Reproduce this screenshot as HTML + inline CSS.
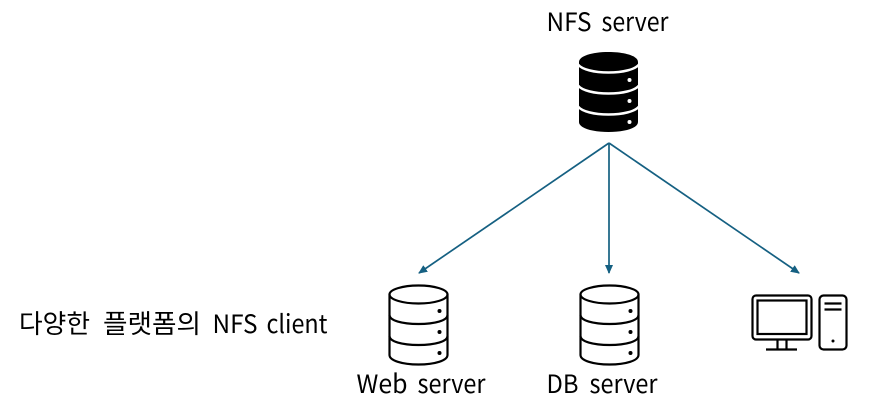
<!DOCTYPE html>
<html>
<head>
<meta charset="utf-8">
<style>
html,body{margin:0;padding:0;background:#fff;width:874px;height:415px;overflow:hidden}
svg{display:block}
text{font-family:"Noto Sans CJK KR","NanumGothic","Liberation Sans",sans-serif;font-size:25.500px;fill:#000}
text.k{font-size:26px}
</style>
</head>
<body>
<svg width="874" height="415" viewBox="0 0 874 415" xmlns="http://www.w3.org/2000/svg">
  <defs>
    <marker id="ah" markerWidth="9" markerHeight="8" refX="8" refY="4" orient="auto" markerUnits="userSpaceOnUse">
      <path d="M0 0L9 4L0 8Z" fill="#156082"/>
    </marker>
  </defs>

  <text x="546.500" y="31" textLength="45" lengthAdjust="spacingAndGlyphs">NFS</text>
  <text x="601.500" y="31" textLength="67" lengthAdjust="spacingAndGlyphs">server</text>
  <text x="356.500" y="393" textLength="51" lengthAdjust="spacingAndGlyphs">Web</text>
  <text x="417.500" y="393" textLength="68" lengthAdjust="spacingAndGlyphs">server</text>
  <text x="546.500" y="393" textLength="32" lengthAdjust="spacingAndGlyphs">DB</text>
  <text x="589.500" y="393" textLength="68" lengthAdjust="spacingAndGlyphs">server</text>
  <text class="k" x="19" y="333" textLength="71" lengthAdjust="spacingAndGlyphs">다양한</text>
  <text class="k" x="103" y="333" textLength="98" lengthAdjust="spacingAndGlyphs">플랫폼의</text>
  <text x="212.500" y="333" textLength="45" lengthAdjust="spacingAndGlyphs">NFS</text>
  <text x="266.500" y="333" textLength="61" lengthAdjust="spacingAndGlyphs">client</text>

  <!-- filled NFS server database -->
  <g>
    <path d="M579 62C579 56 592 52 608.500 52S638 56 638 62V122C638 128 625 132 608.500 132S579 128 579 122Z" fill="#000"/>
    <g fill="none" stroke="#fff" stroke-width="2.500">
      <path d="M578 64.500C582 69.500 594 72.500 608.500 72.500S635 69.500 639 64.500"/>
      <path d="M578 85.500C582 90.500 594 93.500 608.500 93.500S635 90.500 639 85.500"/>
      <path d="M578 106.500C582 111.500 594 114.500 608.500 114.500S635 111.500 639 106.500"/>
    </g>
    <circle cx="629.500" cy="80" r="2" fill="#fff"/>
    <circle cx="629.500" cy="101" r="2" fill="#fff"/>
    <circle cx="629.500" cy="122" r="2" fill="#fff"/>
  </g>

  <!-- connectors -->
  <g stroke="#156082" stroke-width="1.700" fill="none">
    <line x1="609" y1="143" x2="419" y2="273" marker-end="url(#ah)"/>
    <line x1="609" y1="143" x2="609" y2="273" marker-end="url(#ah)"/>
    <line x1="609" y1="143" x2="799" y2="273" marker-end="url(#ah)"/>
  </g>

  <!-- outline databases -->
  <g fill="none" stroke="#000" stroke-width="2.200">
    <ellipse cx="418.500" cy="294.500" rx="29" ry="9"/>
    <path d="M389.500 294.500V355C389.500 360.500 402 364.500 418.500 364.500S447.500 360.500 447.500 355V294.500"/>
    <path d="M389.500 315C389.500 320.500 402 324 418.500 324S447.500 320.500 447.500 315"/>
    <path d="M389.500 336C389.500 341.500 402 345 418.500 345S447.500 341.500 447.500 336"/>
    <g fill="#000" stroke="none">
      <circle cx="439.500" cy="311" r="2"/>
      <circle cx="439.500" cy="332" r="2"/>
      <circle cx="439.500" cy="353" r="2"/>
    </g>
  </g>
  <g fill="none" stroke="#000" stroke-width="2.200">
    <ellipse cx="609.500" cy="294.500" rx="29" ry="9"/>
    <path d="M580.500 294.500V355C580.500 360.500 593 364.500 609.500 364.500S638.500 360.500 638.500 355V294.500"/>
    <path d="M580.500 315C580.500 320.500 593 324 609.500 324S638.500 320.500 638.500 315"/>
    <path d="M580.500 336C580.500 341.500 593 345 609.500 345S638.500 341.500 638.500 336"/>
    <g fill="#000" stroke="none">
      <circle cx="630.500" cy="311" r="2"/>
      <circle cx="630.500" cy="332" r="2"/>
      <circle cx="630.500" cy="353" r="2"/>
    </g>
  </g>

  <!-- computer -->
  <g fill="none" stroke="#000" stroke-width="2.200">
    <rect x="752.500" y="295.500" width="59" height="44" rx="3.500"/>
    <rect x="757.500" y="300.500" width="49" height="33.500"/>
    <path d="M777.500 339.500V349.500M786.500 339.500V349.500M766 349.500H797"/>
    <rect x="819.500" y="295.500" width="27" height="54" rx="4"/>
    <path d="M824.500 303.500H841.500M824.500 309.500H841.500"/>
    <circle cx="833" cy="341" r="1.500" fill="#000" stroke="none"/>
  </g>
</svg>
</body>
</html>
